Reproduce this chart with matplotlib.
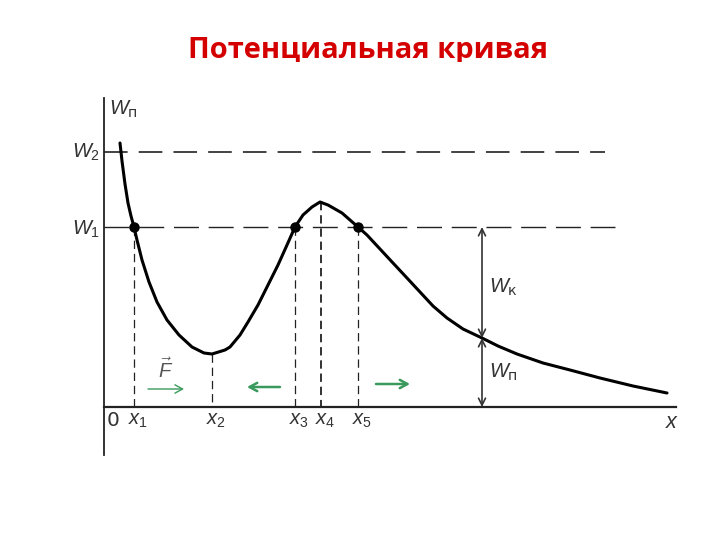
import matplotlib
matplotlib.use("Agg")
import matplotlib.pyplot as plt
from matplotlib.patches import Rectangle

plt.rcParams.update({"mathtext.fontset": "custom",
                     "mathtext.it": "Liberation Sans:italic",
                     "mathtext.rm": "Liberation Sans",
                     "mathtext.sf": "Liberation Sans",
                     "lines.scale_dashes": False})

# ---- data --------------------------------------------------------------------
curve_x = [0.16, 0.18, 0.21, 0.24, 0.27, 0.30, 0.33, 0.38, 0.45, 0.53, 0.63, 0.75,
           0.88, 1.00, 1.08, 1.21, 1.26, 1.36, 1.44, 1.54, 1.64, 1.74, 1.83, 1.91,
           1.99, 2.08, 2.16, 2.24, 2.38, 2.54, 2.63, 2.76, 2.89, 3.03, 3.16, 3.29,
           3.43, 3.59, 3.78, 3.94, 4.13, 4.39, 4.66, 4.96, 5.29, 5.63]
curve_w = [2.64, 2.46, 2.23, 2.04, 1.91, 1.80, 1.67, 1.47, 1.25, 1.05, 0.87, 0.72,
           0.60, 0.54, 0.53, 0.57, 0.60, 0.72, 0.85, 1.02, 1.22, 1.42, 1.62, 1.80,
           1.92, 2.00, 2.05, 2.02, 1.94, 1.80, 1.72, 1.58, 1.44, 1.29, 1.15, 1.01,
           0.89, 0.78, 0.69, 0.61, 0.53, 0.44, 0.37, 0.29, 0.21, 0.14]
W_levels = [1.80, 2.55]                      # W1, W2
x_points = [0.30, 1.08, 1.91, 2.17, 2.54]    # x1 .. x5
w_at_points = [1.80, 0.53, 1.80, 2.05, 1.80]
x_labels = ["$x_1$", "$x_2$", "$x_3$", "$x_4$", "$x_5$"]
x_split = 3.78                               # where W = Wk + Wp is shown
w_split = 0.69

fig = plt.figure(figsize=(7.2, 5.4), dpi=100)
ax = fig.add_axes([0, 0, 1, 1])
ax.set_xlim(-1.04, 6.16); ax.set_ylim(-1.33, 4.07)
ax.axis("off")

INK = "#333333"
GREEN = "#3a9a5c"

# axes
ax.plot([0, 0], [-0.48, 3.09], color="#222222", lw=1.3)
ax.plot([0, 5.72], [0, 0], color="#222222", lw=1.6)

# energy levels
ax.plot([0, 5.01], [W_levels[1]] * 2, color="#222222", lw=1.2, ls=(0, (17, 8)))
ax.plot([0, 5.11], [W_levels[0]] * 2, color="#222222", lw=1.0, ls=(0, (18, 7)))

# projections down to x axis
for i, (xp, wp) in enumerate(zip(x_points, w_at_points)):
    lw = 1.3 if i == 3 else 0.9
    ax.plot([xp, xp], [wp, 0], color="#222222", lw=lw, ls=(0, (6, 3.5)))
    ax.text(xp + 0.04, -0.04, x_labels[i], ha="center", va="top", fontsize=14.5, color=INK)

# potential curve
ax.plot(curve_x, curve_w, color="black", lw=2.2, solid_capstyle="round",
        solid_joinstyle="round")
for xp, wp in zip(x_points, w_at_points):
    if abs(wp - W_levels[0]) < 1e-6:
        ax.plot(xp, wp, "o", color="black", ms=6.5)

# labels
ax.text(0.09, -0.04, "0", ha="center", va="top", fontsize=14.5, color=INK)
ax.text(5.68, -0.05, "$x$", ha="center", va="top", fontsize=15.5, color=INK)
ax.text(0.05, 2.98, r"$W_{\mathregular{п}}$", ha="left", va="center", fontsize=14.5, color=INK)
ax.text(-0.04, W_levels[1], "$W_2$", ha="right", va="center", fontsize=14.5, color=INK)
ax.text(-0.04, W_levels[0] - 0.02, "$W_1$", ha="right", va="center", fontsize=14.5, color=INK)
ax.text(x_split + 0.07, (W_levels[0] + w_split) / 2 - 0.05, r"$W_{\mathregular{к}}$",
        ha="left", va="center", fontsize=14.5, color=INK)
ax.text(x_split + 0.07, w_split / 2, r"$W_{\mathregular{п}}$",
        ha="left", va="center", fontsize=14.5, color=INK)

# double arrows Wk / Wp
arr = dict(arrowstyle="<->,head_length=0.5,head_width=0.25", color=INK, lw=1.2,
           shrinkA=0, shrinkB=0)
ax.annotate("", xy=(x_split, W_levels[0]), xytext=(x_split, w_split), arrowprops=arr)
ax.annotate("", xy=(x_split, w_split), xytext=(x_split, 0), arrowprops=arr)

# force arrows
ax.annotate("", xy=(0.80, 0.18), xytext=(0.44, 0.18),
            arrowprops=dict(arrowstyle="->,head_length=0.55,head_width=0.3", color=GREEN,
                            lw=1.0, shrinkA=0, shrinkB=0))
ax.annotate("", xy=(1.43, 0.20), xytext=(1.76, 0.20),
            arrowprops=dict(arrowstyle="->,head_length=0.55,head_width=0.3", color=GREEN,
                            lw=1.8, shrinkA=0, shrinkB=0))
ax.annotate("", xy=(3.06, 0.23), xytext=(2.72, 0.23),
            arrowprops=dict(arrowstyle="->,head_length=0.55,head_width=0.3", color=GREEN,
                            lw=1.8, shrinkA=0, shrinkB=0))
ax.text(0.62, 0.37, r"$\vec{F}$", ha="center", va="center", fontsize=14.5, color="#555555")

# title (clipped at the bottom as in the slide)
t = fig.text(0.511, 0.906, "Потенциальная кривая", ha="center", va="center",
             fontsize=21, fontweight="bold", color="#d40000",
             family=["Open Sans", "DejaVu Sans"])
clip = Rectangle((0, 1 - 62 / 540), 1, 62 / 540, transform=fig.transFigure)
t.set_clip_path(clip)

fig.savefig("out.png", dpi=100)
